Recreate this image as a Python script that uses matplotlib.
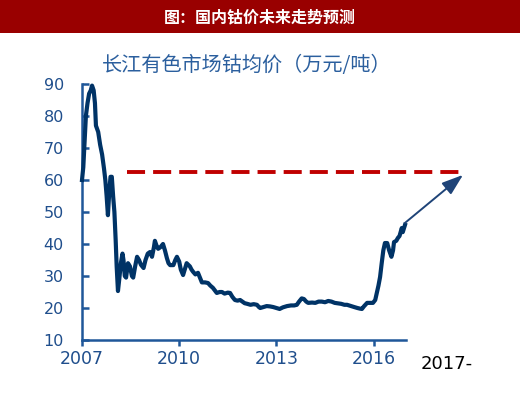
import matplotlib
matplotlib.use("Agg")
import matplotlib.pyplot as plt

plt.rcParams['font.family'] = ['DejaVu Sans']
plt.rcParams['lines.scale_dashes'] = False

years = [2007.00, 2007.04, 2007.08, 2007.12, 2007.17, 2007.22, 2007.27, 2007.31, 2007.36, 2007.40, 2007.43,
         2007.50, 2007.56, 2007.62, 2007.68, 2007.72, 2007.76, 2007.80, 2007.84, 2007.88, 2007.92,
         2007.96, 2008.00, 2008.04, 2008.07, 2008.11, 2008.15, 2008.20, 2008.25, 2008.28, 2008.32,
         2008.36, 2008.42, 2008.48, 2008.54, 2008.58, 2008.64, 2008.70, 2008.76, 2008.82, 2008.90,
         2008.96, 2009.03, 2009.10, 2009.16, 2009.22, 2009.25, 2009.30, 2009.35, 2009.42, 2009.50,
         2009.56, 2009.62, 2009.67, 2009.72, 2009.82, 2009.88, 2009.93, 2010.00, 2010.05, 2010.12,
         2010.17, 2010.23, 2010.28, 2010.33, 2010.38, 2010.43, 2010.50, 2010.58, 2010.64, 2010.70,
         2010.80, 2010.89, 2010.96, 2011.04, 2011.10, 2011.16, 2011.25, 2011.32, 2011.40, 2011.50,
         2011.57, 2011.64, 2011.72, 2011.80, 2011.88, 2011.95, 2012.02, 2012.10, 2012.20, 2012.30,
         2012.40, 2012.46, 2012.50, 2012.60, 2012.70, 2012.80, 2012.90, 2013.00, 2013.10, 2013.20,
         2013.33, 2013.45, 2013.55, 2013.63, 2013.70, 2013.78, 2013.85, 2013.92, 2013.98, 2014.10,
         2014.20, 2014.30, 2014.40, 2014.50, 2014.60, 2014.70, 2014.80, 2014.87, 2015.00, 2015.10,
         2015.18, 2015.30, 2015.40, 2015.50, 2015.58, 2015.64, 2015.70, 2015.80, 2015.90, 2015.98,
         2016.05, 2016.10, 2016.15, 2016.20, 2016.25, 2016.30, 2016.35, 2016.42, 2016.48, 2016.55,
         2016.60, 2016.63, 2016.70, 2016.75, 2016.80, 2016.84, 2016.87, 2016.90, 2016.94, 2016.97]
prices = [60, 64, 72, 80, 84, 87, 88, 89.5, 88, 84, 77,
          75, 71, 68, 63.5, 60, 55, 49, 56, 61, 61,
          55, 50, 41, 33, 25.3, 29, 34, 37, 35, 30,
          29.5, 34, 33, 30, 29.5, 33, 36, 35, 33.5, 32.5,
          35, 37, 37.5, 36, 39, 41, 39.5, 38.5, 39, 40,
          38, 35.6, 34, 33.4, 33.4, 35, 36, 34.5, 32, 30.3,
          32, 34, 33.5, 33, 32, 31.3, 30.5, 31, 29.5, 28,
          28, 27.8, 27, 26.3, 25.5, 24.7, 25, 25, 24.5, 24.8,
          24.7, 23.5, 22.5, 22.3, 22.5, 22, 21.5, 21.3, 21, 21.2,
          21, 20.3, 20, 20.3, 20.6, 20.5, 20.3, 20, 19.7, 20.2,
          20.6, 20.8, 20.8, 21, 22, 23, 22.8, 22, 21.6, 21.7,
          21.6, 22, 22, 21.8, 22.2, 22, 21.6, 21.5, 21.3, 21,
          21, 20.6, 20.3, 20, 19.8, 19.7, 20.5, 21.6, 21.6, 21.6,
          22.5, 24.7, 27, 29.7, 34, 38, 40.3, 40.3, 38, 36,
          38, 40.6, 41, 41.9, 42.5, 44, 45, 43.7, 45, 46]

target_x = [2008.39, 2018.67]
target_y = [62.6, 62.6]
arrow_start = (2016.97, 46.6)
arrow_end = (2018.76, 61.6)

xticks = [2007, 2010, 2013, 2016]
yticks = [10, 20, 30, 40, 50, 60, 70, 80, 90]

title = "图：国内钴价未来走势预测"
subtitle = "长江有色市场钴均价（万元/吨）"

W, H = 520, 393
fig = plt.figure(figsize=(W / 100, H / 100), dpi=100)
fig.patch.set_facecolor('white')

# title bar
fig.patches.append(matplotlib.patches.Rectangle((0, 1 - 33 / H), 1, 33 / H, transform=fig.transFigure,
                                                facecolor='#990000', edgecolor='none', zorder=0))
fig.text(0.5, 1 - 17 / H, title, color='white', fontsize=11.5, fontweight='bold',
         ha='center', va='center', family=['Noto Sans CJK SC', 'DejaVu Sans'])
fig.text(247 / W, 1 - 65 / H, subtitle, color='#2b5f9e', fontsize=14.5,
         ha='center', va='center', family=['Noto Sans CJK SC', 'DejaVu Sans'], fontweight='light')

ax = fig.add_axes([82 / W, (H - 340) / H, (406 - 82) / W, (340 - 84) / H])
ax.set_xlim(2007, 2017)
ax.set_ylim(10, 90)

ax.plot(years, prices, color='#003366', lw=3.0, solid_joinstyle='round', zorder=3, clip_on=False)
ax.plot(target_x, target_y, color='#c00000', lw=2.8, dashes=(13, 5.8), clip_on=False, zorder=2)
ax.annotate('', xy=arrow_end, xytext=arrow_start, annotation_clip=False,
            arrowprops=dict(arrowstyle='-|>,head_length=1.3,head_width=0.45', color='#1f4478',
                            lw=1.4, shrinkA=0, shrinkB=0))

for s in ['top', 'right']:
    ax.spines[s].set_visible(False)
for s in ['left', 'bottom']:
    ax.spines[s].set_color('#1f5799')
    ax.spines[s].set_linewidth(1.8)

ax.set_xticks(xticks)
ax.set_xticklabels([str(x) for x in xticks])
ax.set_yticks(yticks)
ax.set_yticklabels([str(y) for y in yticks])
ax.tick_params(axis='y', direction='in', length=5, width=1.8, color='#1f5799',
               labelcolor='#1f4e8c', labelsize=11.5, pad=13)
ax.tick_params(axis='x', direction='out', length=4.5, width=1.8, color='#1f5799',
               labelcolor='#1f4e8c', labelsize=12.5, pad=2.5)

fig.text(447 / W, 1 - 364 / H, "2017-", color='black', fontsize=13, ha='center', va='center')

fig.savefig('out.png', dpi=100, facecolor='white')
